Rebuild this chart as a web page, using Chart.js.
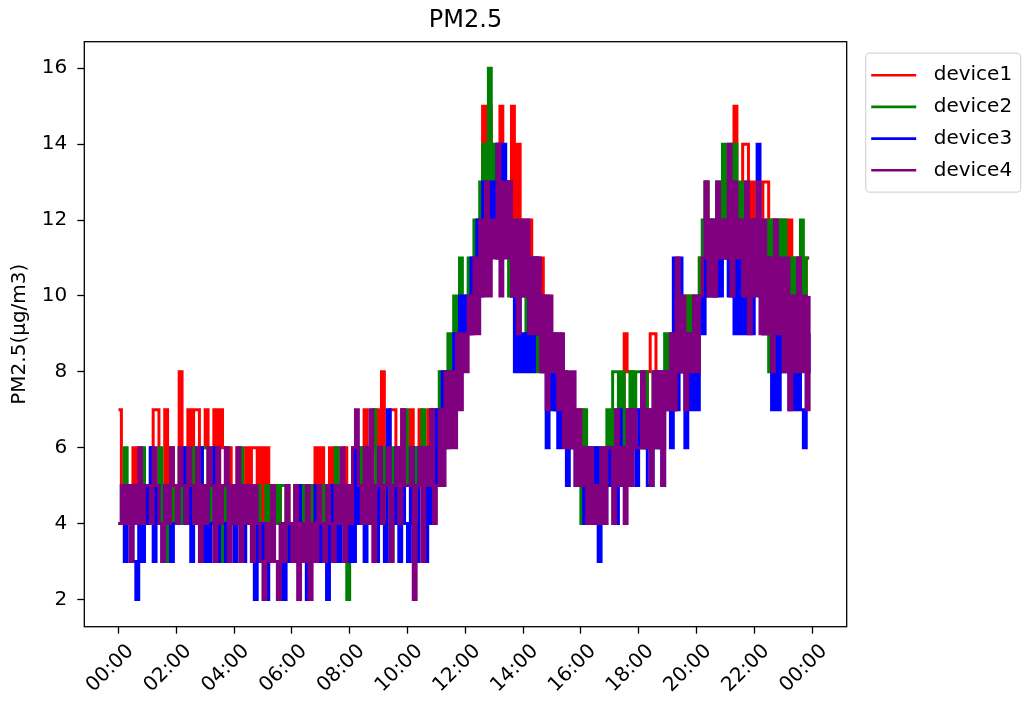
<!DOCTYPE html>
<html>
<head>
<meta charset="utf-8">
<script src="https://cdn.jsdelivr.net/npm/chart.js@4.4.1/dist/chart.umd.min.js"></script>
<style>
  html, body { margin: 0; padding: 0; background: #fff; }
</style>
</head>
<body>
<canvas id="pmChart" width="1027" height="707"></canvas>
<script>
// one reading every 6 minutes, 10 per row = 1 hour
const device1 = [
  7,4,5,4,5,6,5,6,4,5,  5,4,7,7,5,4,7,5,6,4,  5,8,5,6,7,5,7,7,5,6,  7,5,6,7,5,7,6,5,6,4,
  5,6,4,5,6,5,6,6,4,6,  4,6,3,5,4,5,3,4,5,4,  3,5,4,5,3,4,5,3,6,5,  6,4,5,6,4,6,5,4,6,5,
  5,6,4,6,5,7,6,5,6,7,  5,8,6,5,7,7,5,6,7,6,  5,7,4,6,7,5,6,7,5,7,  6,7,6,8,7,8,7,9,8,9,
  9,10,9,11,10,12,15,12,15,12,  13,11,15,12,13,11,15,12,14,11,  12,10,12,9,11,10,11,9,10,8,  9,7,8,7,8,6,7,7,6,5,
  7,5,6,4,6,5,6,4,6,5,  6,5,7,6,7,9,8,8,6,7,  7,8,6,8,9,9,7,8,6,8,  8,9,7,10,8,9,10,8,10,9,
  9,11,10,13,11,12,10,12,11,13,  11,13,12,15,12,11,14,14,12,13,  11,12,10,13,13,11,12,10,12,11,  12,10,12,9,11,10,11,9,11,11
];
const device2 = [
  4,5,6,4,5,4,5,4,6,5,  5,6,4,5,6,4,5,3,4,5,  5,6,4,6,5,4,6,5,4,6,  6,4,5,6,4,5,3,6,4,5,
  5,4,6,3,5,4,5,3,5,4,  3,5,4,3,5,4,5,5,3,4,  4,5,3,5,4,5,5,3,4,3,  4,5,3,5,4,6,4,5,3,2,
  4,6,5,4,6,5,4,6,7,5,  6,4,6,5,3,6,4,6,5,7,  5,6,4,6,5,7,4,6,7,6,  6,8,7,8,9,8,10,9,11,10,
  9,11,10,12,11,13,14,13,16,12,  14,11,13,12,13,10,12,11,12,10,  11,9,11,10,11,8,10,8,9,8,  8,7,9,7,8,6,7,6,7,5,
  4,7,5,6,4,6,5,6,5,7,  6,8,8,7,8,6,7,8,7,8,  8,6,8,7,6,8,7,6,8,9,  8,9,8,10,8,9,8,10,9,10,
  10,11,12,13,11,12,11,13,12,14,  12,14,13,14,11,13,12,13,11,12,  11,12,10,9,12,8,12,9,12,10,  12,9,11,10,11,9,12,10,11,11
];
const device3 = [
  4,5,3,4,5,3,2,4,3,5,  4,6,3,5,4,3,5,4,3,4,  4,5,6,4,5,3,4,5,6,3,  5,3,4,6,3,5,4,3,5,4,
  3,5,4,3,5,4,3,2,4,3,  4,2,3,4,3,2,4,2,3,4,  3,4,5,3,4,2,3,4,5,3,  4,3,2,5,3,4,3,5,4,3,
  5,3,6,4,5,3,6,4,5,3,  6,4,3,7,5,4,6,3,5,4,  3,6,4,3,6,5,3,6,4,5,  7,5,8,6,8,7,9,8,10,9,
  10,9,11,10,12,10,13,11,12,13,  12,14,11,14,12,13,10,8,11,8,  9,8,10,8,11,9,10,8,6,9,  7,8,6,8,7,5,7,6,5,6,
  5,4,6,4,5,6,3,5,4,6,  5,6,4,7,5,6,5,7,6,5,  7,6,7,5,5,7,6,8,5,7,  8,6,11,7,11,8,6,9,7,9,
  7,10,9,12,10,11,10,12,10,11,  12,10,13,9,12,9,11,9,10,9,  12,14,10,9,11,10,7,11,7,9,  8,10,7,9,7,10,7,6,8,9
];
const device4 = [
  4,5,4,5,3,5,4,6,4,5,  5,4,6,5,4,3,5,4,6,5,  4,6,5,4,6,5,4,6,3,5,  4,6,5,3,6,4,5,6,3,5,
  4,6,3,5,4,5,3,5,4,3,  2,4,3,5,3,2,4,3,5,4,  3,5,2,4,3,5,2,4,3,5,  4,3,5,4,3,5,4,6,3,5,
  4,6,7,5,4,6,4,7,3,5,  6,4,5,6,3,5,6,4,7,5,  5,6,2,5,6,3,6,5,7,4,  5,7,5,8,6,8,6,9,7,9,
  8,10,9,11,9,12,10,13,10,12,  11,14,10,13,11,13,10,12,9,12,  10,12,9,11,9,11,8,10,7,10,  8,9,7,9,6,8,6,8,5,7,
  5,6,4,6,4,5,4,6,4,6,  6,4,7,5,6,4,7,5,7,6,  6,8,6,7,5,8,6,8,5,8,  7,9,7,11,8,10,7,9,8,10,
  8,10,11,13,10,12,10,13,11,12,  11,14,10,13,11,12,10,13,9,12,  10,13,9,12,9,11,8,12,9,11,  8,11,7,10,8,11,8,10,7,10
];
const sampleMinutes = device1.map((_, i) => i * 6);
const tickLabels = ["00:00", "02:00", "04:00", "06:00", "08:00", "10:00", "12:00",
                    "14:00", "16:00", "18:00", "20:00", "22:00", "00:00"];
const yTicks = [2, 4, 6, 8, 10, 12, 14, 16];

Chart.defaults.font.family = "'DejaVu Sans', sans-serif";
Chart.defaults.color = "#000";

// matplotlib style frame round the axes + legend box outside on the right
const framePlugin = {
  id: "frame",
  afterDatasetsDraw(chart) {
    const { ctx, chartArea: a } = chart;
    ctx.save();
    ctx.strokeStyle = "#000";
    ctx.lineWidth = 1.3;
    ctx.strokeRect(a.left, a.top, a.right - a.left, a.bottom - a.top);
    ctx.restore();
  },
  afterDraw(chart) {
    const { ctx, chartArea: a } = chart;
    const left = a.right + 19, top = a.top + 11.5, w = 155, h = 139;
    ctx.save();
    ctx.fillStyle = "rgba(255,255,255,0.8)";
    ctx.strokeStyle = "#d6d6d6";
    ctx.lineWidth = 1.2;
    ctx.beginPath();
    ctx.roundRect(left, top, w, h, 4);
    ctx.fill();
    ctx.stroke();
    ctx.font = "20px 'DejaVu Sans'";
    ctx.textBaseline = "middle";
    chart.data.datasets.forEach((ds, i) => {
      const y = top + 22 + i * 31.7;
      ctx.strokeStyle = ds.borderColor;
      ctx.lineWidth = 2.6;
      ctx.beginPath();
      ctx.moveTo(left + 5.5, y);
      ctx.lineTo(left + 50.5, y);
      ctx.stroke();
      ctx.fillStyle = "#000";
      ctx.fillText(ds.label, left + 68, y);
    });
    ctx.restore();
  }
};

const lineStyle = { borderWidth: 3, pointRadius: 0, stepped: true, tension: 0, fill: false };

new Chart(document.getElementById("pmChart"), {
  type: "line",
  data: {
    labels: sampleMinutes,
    datasets: [
      { label: "device1", data: device1, borderColor: "#ff0000", order: 3, ...lineStyle },
      { label: "device2", data: device2, borderColor: "#008000", order: 2, ...lineStyle },
      { label: "device3", data: device3, borderColor: "#0000ff", order: 1, ...lineStyle },
      { label: "device4", data: device4, borderColor: "#800080", order: 0, ...lineStyle }
    ]
  },
  options: {
    responsive: false,
    animation: false,
    layout: { padding: { left: 0, right: 180.3, top: 0, bottom: 0 } },
    plugins: {
      legend: { display: false },
      tooltip: { enabled: false },
      title: {
        display: true,
        text: "PM2.5",
        fullSize: false,
        color: "#000",
        font: { size: 24, weight: "normal" },
        padding: { top: 6.5, bottom: 6.4 }
      }
    },
    scales: {
      x: {
        type: "linear",
        min: -71,
        max: 1512,
        afterBuildTicks: s => { s.ticks = tickLabels.map((_, i) => ({ value: i * 120 })); },
        afterFit: s => { s.height = 80.3; },
        ticks: {
          autoSkip: false,
          minRotation: 45,
          maxRotation: 45,
          labelOffset: 12,
          padding: 6,
          color: "#000",
          font: { size: 20 },
          callback: (v, i) => tickLabels[i]
        },
        grid: { drawOnChartArea: false, drawTicks: true, tickLength: 7, tickWidth: 1.3, tickColor: "#000" },
        border: { display: false }
      },
      y: {
        min: 1.28,
        max: 16.7,
        afterBuildTicks: s => { s.ticks = yTicks.map(v => ({ value: v })); },
        afterFit: s => { s.width = 84.3; },
        ticks: { padding: 10, color: "#000", font: { size: 20 } },
        title: {
          display: true,
          text: "PM2.5(μg/m3)",
          color: "#000",
          font: { size: 20 },
          padding: { top: 8, bottom: 0 }
        },
        grid: { drawOnChartArea: false, drawTicks: true, tickLength: 7, tickWidth: 1.3, tickColor: "#000" },
        border: { display: false }
      }
    }
  },
  plugins: [framePlugin]
});
</script>
</body>
</html>
